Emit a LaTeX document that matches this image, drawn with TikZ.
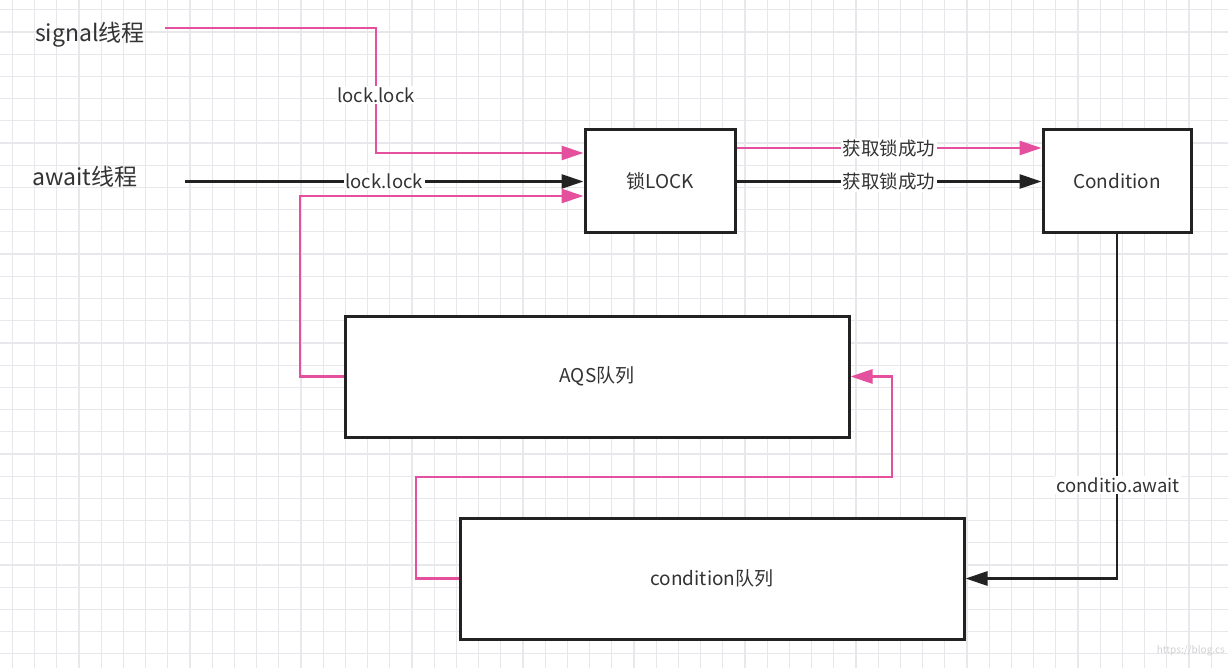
\documentclass[tikz,border=0pt]{standalone}
\usepackage{fontspec}
\setmainfont{Noto Sans CJK SC}
\usetikzlibrary{arrows.meta}
\definecolor{pinkc}{HTML}{E4509E}
\definecolor{darkc}{HTML}{222222}
\definecolor{txtc}{HTML}{333333}
\definecolor{gridc}{HTML}{E8E8EC}
\tikzset{
  x=1pt, y=-1pt,
  box/.style={draw=darkc, line width=3pt, fill=white, inner sep=0pt, text=txtc, font=\fontsize{19}{22}\selectfont},
  pinkline/.style={draw=pinkc, line width=2.8pt, line join=miter, -{Triangle[length=22pt,width=14pt,fill=pinkc]}},
  blackline/.style={draw=darkc, line width=2.8pt, line join=miter, -{Triangle[length=22pt,width=14pt,fill=darkc]}},
  lbl/.style={fill=white, inner sep=1.5pt, text=txtc, font=\fontsize{18.5}{21}\selectfont},
  thread/.style={text=txtc, font=\fontsize{23}{26}\selectfont, inner sep=0pt},
}
\begin{document}
\begin{tikzpicture}
\useasboundingbox (0,0) rectangle (1228,668);
\fill[white] (0,0) rectangle (1228,668);
% grid
\foreach \i in {0,...,55} {
  \pgfmathsetmacro{\xx}{12.3+22.2*\i}
  \draw[gridc, line width=1.2pt] (\xx,0) -- (\xx,668);
}
\foreach \j in {0,...,30} {
  \pgfmathsetmacro{\yy}{9.9+22.2*\j}
  \draw[gridc, line width=1.2pt] (0,\yy) -- (1228,\yy);
}
% nodes
\node[thread] (sig) at (90,35) {signal线程};
\node[thread] (aw) at (85,177) {await线程};
\node[box, minimum width=150pt, minimum height=103pt] (lock) at (660,181.5) {锁LOCK};
\node[box, minimum width=148pt, minimum height=103pt] (cond) at (1117,181.5) {Condition};
\node[box, minimum width=504pt, minimum height=121pt] (aqs) at (597,376.5) {AQS队列};
\node[box, minimum width=504pt, minimum height=121pt] (cq) at (712,578.5) {condition队列};
% helper coordinates
\coordinate (s0) at (165,28);
\coordinate (s1) at (376,28);
\coordinate (s2) at (376,153);
\coordinate (a0) at (185,181.5);
\coordinate (q2) at (300,196);
\coordinate (p148) at (0,148);
\coordinate (c2) at (416,477);
\coordinate (c3) at (892,477);
% signal thread
\draw[pinkline] (s0) -- (s1) -- (s2) -- (lock.west |- s2);
\node[lbl] (l1) at (376,95) {lock.lock};
% await thread
\draw[blackline] (a0) -- node[lbl] (l2) {lock.lock} (lock.west |- a0);
% AQS to lock
\draw[pinkline] (aqs.west) -- (aqs.west -| q2) -- (q2) -- (lock.west |- q2);
% lock to condition
\draw[pinkline] (lock.east |- p148) -- node[lbl] (l3) {获取锁成功} (cond.west |- p148);
\draw[blackline] (lock.east) -- node[lbl] (l4) {获取锁成功} (cond.west);
% condition await
\draw[blackline] (cond.south) -- (cond.south |- cq.east) -- (cq.east);
\node[lbl] (l5) at (1118,485) {conditio.await};
% condition queue back to AQS
\draw[pinkline] (cq.west) -- (cq.west -| c2) -- (c2) -- (c3) -- (aqs.east -| c3) -- (aqs.east);
% watermark
\node[anchor=east, text=black!18, font=\fontsize{10}{12}\selectfont, inner sep=0pt] (wm) at (1225,651) {https://blog.cs};
\end{tikzpicture}
\end{document}
